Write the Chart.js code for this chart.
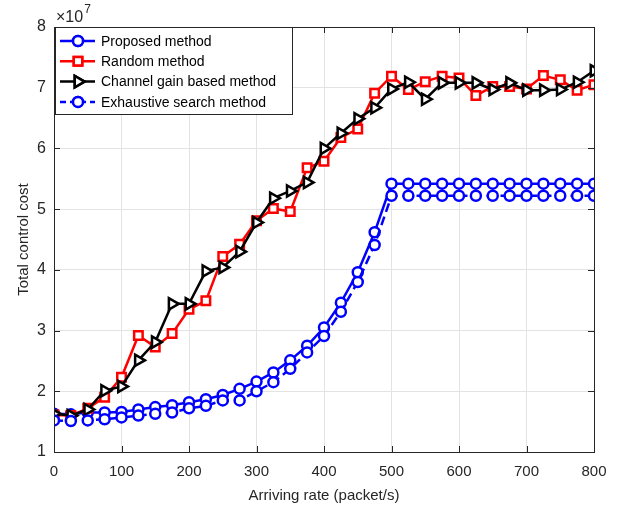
<!DOCTYPE html>
<html>
<head>
<meta charset="utf-8">
<script src="https://cdn.jsdelivr.net/npm/chart.js@4.4.1/dist/chart.umd.min.js"></script>
<style>
  html, body { margin: 0; padding: 0; background: #fff; }
  #wrap { width: 620px; height: 509px; }
</style>
</head>
<body>
<div id="wrap"><canvas id="costChart" width="620" height="509"></canvas></div>
<script>
// arriving rate (packet/s)
const rates = [0, 25, 50, 75, 100, 125, 150, 175, 200, 225, 250, 275, 300, 325, 350, 375, 400,
               425, 450, 475, 500, 525, 550, 575, 600, 625, 650, 675, 700, 725, 750, 775, 800];

// total control cost, in units of 10^7
const proposed = [1.63, 1.62, 1.65, 1.65, 1.66, 1.70, 1.74, 1.77, 1.82, 1.87, 1.94, 2.04, 2.16, 2.31, 2.51, 2.75, 3.05,
                  3.46, 3.96, 4.62, 5.42, 5.42, 5.42, 5.42, 5.42, 5.42, 5.42, 5.42, 5.42, 5.42, 5.42, 5.42, 5.42];
const randomM  = [1.61, 1.60, 1.72, 1.90, 2.23, 2.92, 2.73, 2.95, 3.35, 3.49, 4.22, 4.42, 4.81, 5.01, 4.96, 5.68, 5.79,
                  6.18, 6.32, 6.91, 7.19, 6.97, 7.10, 7.19, 7.16, 6.87, 7.02, 7.02, 6.98, 7.20, 7.13, 6.96, 7.05];
const channel  = [1.63, 1.60, 1.70, 2.01, 2.08, 2.51, 2.81, 3.44, 3.44, 3.98, 4.04, 4.30, 4.78, 5.18, 5.30, 5.44, 6.00,
                  6.25, 6.49, 6.67, 6.98, 7.09, 6.81, 7.08, 7.08, 7.08, 6.97, 7.08, 6.96, 6.96, 6.97, 7.09, 7.28];
const exhaust  = [1.52, 1.51, 1.52, 1.54, 1.57, 1.60, 1.63, 1.65, 1.72, 1.76, 1.85, 1.85, 2.00, 2.15, 2.37, 2.64, 2.91,
                  3.31, 3.80, 4.41, 5.22, 5.22, 5.22, 5.22, 5.22, 5.22, 5.22, 5.22, 5.22, 5.22, 5.22, 5.22, 5.22];

const seriesNames = ['Proposed method', 'Random method', 'Channel gain based method', 'Exhaustive search method'];
const xTicks = [0, 100, 200, 300, 400, 500, 600, 700, 800];
const yTicks = [1, 2, 3, 4, 5, 6, 7, 8];
const yExponent = 7;

const FONT = '"Liberation Sans", Arial, Helvetica, sans-serif';
const AXIS = '#262626';
const GRID = '#e3e3e3';

const pts = ys => rates.map((x, i) => ({ x: x, y: ys[i] }));

const styles = [
    { color: '#0000ff', marker: 'circle', radius: 5, rot: 0, dash: [] },
    { color: '#ff0000', marker: 'rect', radius: 6, rot: 0, dash: [] },
    { color: '#000000', marker: 'triangle', radius: 6.5, rot: 90, dash: [] },
    { color: '#0000ff', marker: 'circle', radius: 5, rot: 0, dash: [9, 5] }
];

const datasets = [proposed, randomM, channel, exhaust].map((ys, i) => ({
    label: seriesNames[i],
    data: pts(ys),
    borderColor: styles[i].color,
    borderWidth: 2.5,
    borderDash: styles[i].dash,
    pointStyle: styles[i].marker,
    pointRadius: styles[i].radius,
    pointRotation: styles[i].rot,
    pointBorderWidth: 2.5,
    pointBorderColor: styles[i].color,
    pointBackgroundColor: '#ffffff',
    fill: false,
    tension: 0,
    order: 3 - i   // matlab draws later series on top
}));

// box, inward ticks, exponent label and legend like the matlab figure
const matlabDeco = {
    id: 'matlabDeco',
    afterDraw(chart) {
        const { ctx, chartArea: a, scales } = chart;
        ctx.save();
        ctx.strokeStyle = AXIS;
        ctx.lineWidth = 1;
        ctx.setLineDash([]);
        ctx.strokeRect(a.left + 0.5, a.top + 0.5, a.right - a.left, a.bottom - a.top);
        ctx.beginPath();
        xTicks.forEach(t => {
            const px = Math.round(scales.x.getPixelForValue(t)) + 0.5;
            ctx.moveTo(px, a.bottom); ctx.lineTo(px, a.bottom - 6);
            ctx.moveTo(px, a.top); ctx.lineTo(px, a.top + 6);
        });
        yTicks.forEach(t => {
            const py = Math.round(scales.y.getPixelForValue(t)) + 0.5;
            ctx.moveTo(a.left, py); ctx.lineTo(a.left + 6, py);
            ctx.moveTo(a.right, py); ctx.lineTo(a.right - 6, py);
        });
        ctx.stroke();

        // x10^7
        ctx.fillStyle = AXIS;
        ctx.textBaseline = 'alphabetic';
        ctx.font = '16px ' + FONT;
        ctx.fillText('\u00d710', a.left + 2, a.top - 5);
        const w = ctx.measureText('\u00d710').width;
        ctx.font = '12px ' + FONT;
        ctx.fillText(String(yExponent), a.left + 3 + w, a.top - 14);

        // legend
        const lx = a.left + 1, ly = a.top, lw = 237, lh = 87;
        ctx.fillStyle = '#fff';
        ctx.fillRect(lx, ly, lw, lh);
        ctx.strokeStyle = AXIS;
        ctx.strokeRect(lx + 0.5, ly + 0.5, lw, lh);
        ctx.font = '14px ' + FONT;
        ctx.textBaseline = 'middle';
        seriesNames.forEach((name, i) => {
            const s = styles[i];
            const y = ly + 14 + i * 20.3;
            ctx.strokeStyle = s.color;
            ctx.lineWidth = 2.5;
            ctx.setLineDash(s.dash.length ? [6, 4] : []);
            ctx.beginPath();
            ctx.moveTo(lx + 5, y); ctx.lineTo(lx + 40, y);
            ctx.stroke();
            ctx.setLineDash([]);
            ctx.fillStyle = '#fff';
            Chart.helpers.drawPoint(ctx, {
                pointStyle: s.marker, radius: s.radius, rotation: s.rot, borderWidth: 2.5
            }, lx + 23, y);
            ctx.fill();
            ctx.stroke();
            ctx.fillStyle = '#000';
            ctx.fillText(name, lx + 46, y + 1);
        });
        ctx.restore();
    }
};

new Chart(document.getElementById('costChart'), {
    type: 'line',
    data: { datasets: datasets },
    options: {
        responsive: false,
        animation: false,
        layout: { padding: { left: 0, top: 27, right: 26, bottom: 0 } },
        plugins: { legend: { display: false }, tooltip: { enabled: false } },
        scales: {
            x: {
                type: 'linear', min: 0, max: 800,
                afterBuildTicks: s => { s.ticks = xTicks.map(v => ({ value: v })); },
                afterFit: s => { s.height = 57; },
                grid: { color: GRID, drawTicks: false, lineWidth: 1 },
                border: { display: false },
                ticks: { color: AXIS, font: { family: FONT, size: 15 }, padding: 11, maxRotation: 0 },
                title: { display: true, text: 'Arriving rate (packet/s)', color: AXIS,
                         font: { family: FONT, size: 15 }, padding: { top: 2, bottom: 4 } }
            },
            y: {
                min: 1, max: 8,
                afterBuildTicks: s => { s.ticks = yTicks.map(v => ({ value: v })); },
                afterFit: s => { s.width = 54; },
                grid: { color: GRID, drawTicks: false, lineWidth: 1 },
                border: { display: false },
                ticks: { color: AXIS, font: { family: FONT, size: 16 }, padding: 8 },
                title: { display: true, text: 'Total control cost', color: AXIS,
                         font: { family: FONT, size: 15 }, padding: { top: 15, bottom: 0 } }
            }
        }
    },
    plugins: [matlabDeco]
});
</script>
</body>
</html>
